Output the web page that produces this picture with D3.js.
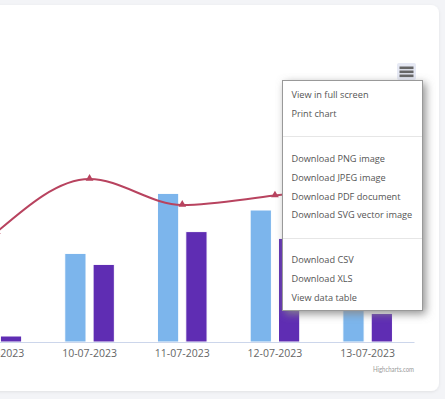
<!DOCTYPE html>
<html lang="en">
<head>
  <meta charset="UTF-8">
  <title>Chart</title>
  <script src="https://cdn.jsdelivr.net/npm/d3@7"></script>
  <style>
    body { margin: 0; background: #f3f4f7; }
    svg { display: block; font-family: "Open Sans", sans-serif; }
  </style>
</head>
<body>
  <svg width="445" height="399"></svg>
  <script>
    // data
    var dates = ['09-07-2023', '10-07-2023', '11-07-2023', '12-07-2023', '13-07-2023'];
    var seriesNames = ['Series A', 'Series B'];
    var seriesA = [20, 44.3, 74.3, 66, 38];
    var seriesB = [3, 38.8, 55.2, 51.8, 14.3];
    var lineValues = [55, 81.5, 68.5, 73.2, 78.5];
    var menuItems = ['View in full screen', 'Print chart', null,
      'Download PNG image', 'Download JPEG image', 'Download PDF document', 'Download SVG vector image', null,
      'Download CSV', 'Download XLS', 'View data table'];

    var colors = ['#7cb5ec', '#5f2db3'];
    var lineColor = '#b8435f';

    var svg = d3.select('svg');
    var defs = svg.append('defs');
    var cardShadow = defs.append('filter').attr('id', 'cardShadow')
      .attr('x', '-10%').attr('y', '-10%').attr('width', '120%').attr('height', '120%');
    cardShadow.append('feDropShadow').attr('dx', 0).attr('dy', 1).attr('stdDeviation', 1.5)
      .attr('flood-color', '#000').attr('flood-opacity', 0.08);
    var menuShadow = defs.append('filter').attr('id', 'menuShadow')
      .attr('x', '-20%').attr('y', '-20%').attr('width', '150%').attr('height', '150%');
    menuShadow.append('feDropShadow').attr('dx', 3).attr('dy', 3).attr('stdDeviation', 4)
      .attr('flood-color', '#888').attr('flood-opacity', 0.9);

    // card
    svg.append('rect')
      .attr('x', -20).attr('y', 5).attr('width', 459).attr('height', 386)
      .attr('rx', 8).attr('fill', '#fff').attr('filter', 'url(#cardShadow)');

    var baseline = 342;
    var x = d3.scaleBand().domain(dates).range([-49.5, 414]);
    var x1 = d3.scaleBand().domain(seriesNames)
      .range([x.bandwidth() / 2 - 24.8, x.bandwidth() / 2 + 24.8])
      .paddingInner(0.25);
    var y = d3.scaleLinear().domain([0, 160]).range([baseline, 22]);

    var rows = dates.map(function(d, i) {
      return {date: d, values: [seriesA[i], seriesB[i]]};
    });

    var groups = svg.append('g').selectAll('g')
      .data(rows).enter().append('g')
      .attr('transform', function(d) { return 'translate(' + x(d.date) + ',0)'; });
    groups.selectAll('rect')
      .data(function(d) { return d.values.map(function(v, j) { return {name: seriesNames[j], value: v, j: j}; }); })
      .enter().append('rect')
      .attr('x', function(d) { return x1(d.name); })
      .attr('y', function(d) { return y(d.value); })
      .attr('width', x1.bandwidth())
      .attr('height', function(d) { return baseline - y(d.value); })
      .attr('fill', function(d) { return colors[d.j]; })
      .attr('stroke', '#fff').attr('stroke-width', 1);

    // x axis
    var xAxis = d3.axisBottom(x).tickSize(0).tickPadding(8);
    var axisG = svg.append('g').attr('transform', 'translate(0,' + baseline + ')').call(xAxis);
    axisG.select('.domain').attr('stroke', '#ccd6eb');
    axisG.selectAll('text').attr('fill', '#666').attr('font-size', 10.5)
      .attr('font-family', '"Open Sans", sans-serif');

    // spline
    var line = d3.line()
      .x(function(d, i) { return x(dates[i]) + x.bandwidth() / 2; })
      .y(function(d) { return y(d); })
      .curve(d3.curveMonotoneX);
    svg.append('path').datum(lineValues)
      .attr('d', line).attr('fill', 'none')
      .attr('stroke', lineColor).attr('stroke-width', 2);
    svg.append('g').selectAll('path')
      .data(lineValues).enter().append('path')
      .attr('d', d3.symbol(d3.symbolTriangle, 26))
      .attr('transform', function(d, i) {
        return 'translate(' + (x(dates[i]) + x.bandwidth() / 2) + ',' + (y(d) - 0.5) + ')';
      })
      .attr('fill', lineColor);

    // credits
    svg.append('text').attr('x', 414).attr('y', 372)
      .attr('text-anchor', 'end').attr('font-size', 7.5).attr('fill', '#999')
      .attr('font-family', 'Lato, sans-serif')
      .attr('textLength', 41).attr('lengthAdjust', 'spacingAndGlyphs')
      .text('Highcharts.com');

    // context button
    var btn = svg.append('g').attr('transform', 'translate(397,63)');
    btn.append('rect').attr('width', 19).attr('height', 17).attr('rx', 2).attr('fill', '#e6e9f4');
    [0, 1, 2].forEach(function(k) {
      btn.append('rect').attr('x', 2.5).attr('y', 3.5 + k * 4).attr('width', 14).attr('height', 2.6)
        .attr('fill', '#666');
    });

    // export menu
    var menu = svg.append('g');
    menu.append('rect')
      .attr('x', 282.5).attr('y', 80.5).attr('width', 140).attr('height', 230)
      .attr('fill', '#fff').attr('stroke', '#999').attr('filter', 'url(#menuShadow)');
    var cy = 95;
    menuItems.forEach(function(item, i) {
      if (item === null) {
        var sy = cy - 18.9 + 22.3;
        menu.append('line').attr('x1', 283).attr('x2', 422)
          .attr('y1', Math.round(sy) + 0.5).attr('y2', Math.round(sy) + 0.5)
          .attr('stroke', '#e6e6e6');
        cy = sy + 22.3;
        return;
      }
      menu.append('text').attr('x', 291.5).attr('y', cy).attr('dy', '0.35em')
        .attr('font-size', 9.2).attr('fill', '#555').text(item);
      cy += 18.9;
    });
  </script>
</body>
</html>
